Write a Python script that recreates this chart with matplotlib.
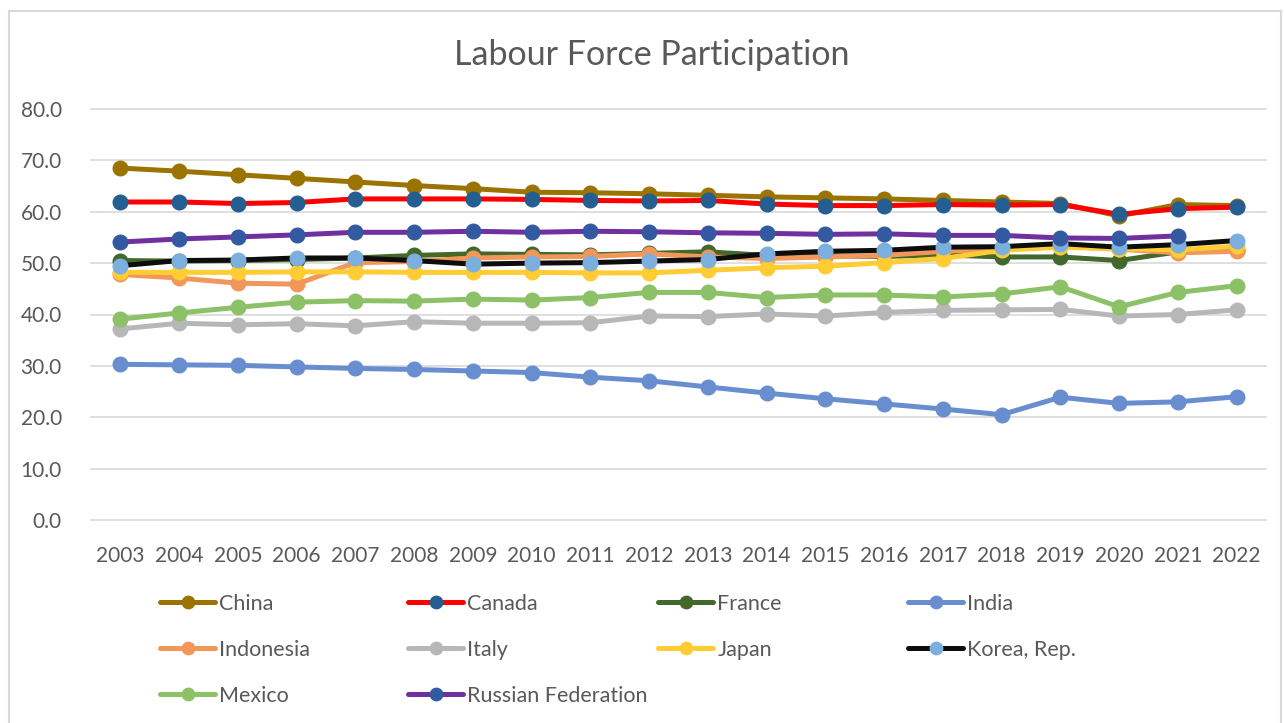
import matplotlib
matplotlib.use('Agg')
import matplotlib.pyplot as plt
import numpy as np
from matplotlib.patches import Rectangle

plt.rcParams['font.family'] = ['Lato', 'DejaVu Sans']

YEARS = [str(y) for y in range(2003, 2023)]

china = [68.5, 67.9, 67.2, 66.5, 65.8, 65.1, 64.5, 63.8, 63.7, 63.5,
         63.2, 62.9, 62.7, 62.5, 62.2, 61.9, 61.6, 59.2, 61.4, 61.2]
canada = [61.9, 61.9, 61.6, 61.8, 62.5, 62.5, 62.5, 62.4, 62.2, 62.1,
          62.2, 61.5, 61.2, 61.2, 61.4, 61.3, 61.4, 59.5, 60.6, 60.9]
france = [50.5, 50.4, 50.5, 50.7, 51.0, 51.5, 51.8, 51.7, 51.6, 51.9,
          52.2, 51.5, 51.4, 51.3, 51.6, 51.2, 51.2, 50.5, 52.2, 52.5]
india = [30.3, 30.2, 30.1, 29.8, 29.5, 29.3, 29.0, 28.7, 27.8, 27.1,
         25.9, 24.7, 23.6, 22.6, 21.6, 20.5, 23.9, 22.7, 23.0, 24.0]
indonesia = [47.8, 47.1, 46.1, 45.9, 50.1, 50.3, 51.0, 51.2, 51.3, 51.8,
             51.2, 50.9, 51.2, 51.5, 52.3, 52.7, 53.3, 52.7, 52.0, 52.3]
italy = [37.2, 38.3, 38.0, 38.2, 37.8, 38.6, 38.3, 38.3, 38.4, 39.7,
         39.6, 40.1, 39.7, 40.4, 40.8, 40.9, 41.0, 39.7, 40.0, 40.9]
japan = [48.2, 48.2, 48.2, 48.3, 48.3, 48.2, 48.2, 48.2, 48.1, 48.1,
         48.6, 49.1, 49.4, 50.1, 50.9, 52.5, 53.1, 52.8, 52.6, 53.3]
korea = [49.5, 50.5, 50.6, 51.0, 51.0, 50.5, 49.8, 50.0, 50.1, 50.4,
         50.7, 51.8, 52.3, 52.5, 53.1, 53.2, 53.8, 53.1, 53.6, 54.4]
mexico = [39.1, 40.3, 41.4, 42.4, 42.7, 42.6, 43.0, 42.8, 43.3, 44.3,
          44.3, 43.3, 43.8, 43.8, 43.4, 44.0, 45.4, 41.5, 44.3, 45.6]
russia = [54.1, 54.7, 55.1, 55.5, 56.0, 56.0, 56.2, 56.0, 56.2, 56.1,
          55.9, 55.8, 55.6, 55.7, 55.4, 55.4, 54.9, 54.8, 55.3, np.nan]

# name, values, line colour, marker colour
SERIES = [
    ('China', china, '#9A7300', '#9A7300'),
    ('Canada', canada, '#FF0000', '#255E91'),
    ('France', france, '#43682B', '#43682B'),
    ('India', india, '#698ED0', '#698ED0'),
    ('Indonesia', indonesia, '#F1975A', '#F1975A'),
    ('Italy', italy, '#B7B7B7', '#B7B7B7'),
    ('Japan', japan, '#FFCD33', '#FFCD33'),
    ('Korea, Rep.', korea, '#0D0D0D', '#7CAFDD'),
    ('Mexico', mexico, '#8CC168', '#8CC168'),
    ('Russian Federation', russia, '#7030A0', '#335AA1'),
]

W, H = 1284, 723
fig = plt.figure(figsize=(W / 100, H / 100), dpi=100)
ax = fig.add_axes([91 / W, 1 - 520 / H, (1266 - 91) / W, (520 - 109) / H])

x = np.arange(len(YEARS))
handles = []
for name, vals, lc, mc in SERIES:
    h, = ax.plot(x, vals, color=lc, lw=3.6, marker='o', ms=10.5,
                 markerfacecolor=mc, markeredgecolor=mc, label=name,
                 solid_capstyle='round')
    handles.append(h)

ax.set_xlim(-0.5, len(YEARS) - 0.5)
ax.set_ylim(0, 80)
ax.set_yticks(np.arange(0, 81, 10))
ax.set_yticklabels([f'{v:.1f}' for v in np.arange(0, 81, 10)])
ax.set_xticks(x)
ax.set_xticklabels(YEARS)
ax.tick_params(axis='both', length=0, labelsize=15, labelcolor='#595959')
ax.tick_params(axis='y', pad=21)
ax.tick_params(axis='x', pad=19)
for s in ax.spines.values():
    s.set_visible(False)
ax.grid(axis='y', color='#D9D9D9', lw=1.2)
ax.set_axisbelow(True)
for gl in ax.get_ygridlines():
    gl.set_clip_on(False)

fig.text(652 / W, 1 - 55 / H, 'Labour Force Participation', ha='center',
         va='center', fontsize=24.5, color='#595959')

# outer chart border
fig.patches.append(Rectangle((9 / W, -0.05), (1281 - 9) / W, 1.05 - 11 / H,
                             transform=fig.transFigure, fill=False,
                             edgecolor='#D9D9D9', lw=1.5))

# legend: 4 columns, row-major order
col_x = [160, 408, 658, 908]
for c in range(4):
    hs = handles[c::4]
    fig.legend(hs, [h.get_label() for h in hs], loc='upper left',
               bbox_to_anchor=(col_x[c] / W, 1 - 594 / H), frameon=False,
               borderpad=0, borderaxespad=0, handlelength=2.56,
               handletextpad=0.19, labelspacing=1.2, fontsize=15.5,
               labelcolor='#595959', markerscale=0.85)

fig.savefig('out.png', dpi=100)
